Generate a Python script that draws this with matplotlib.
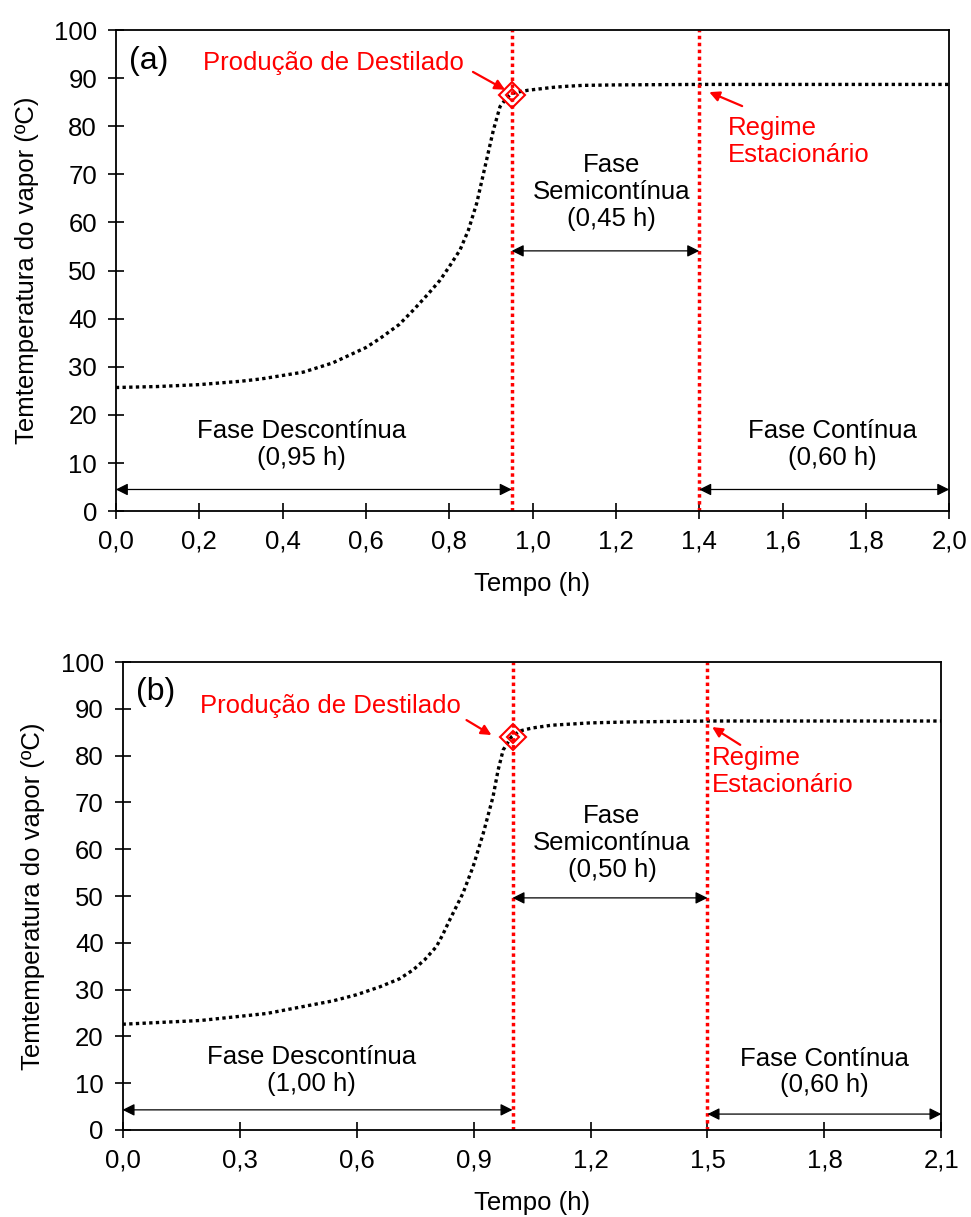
import matplotlib.pyplot as plt
import numpy as np

plt.rcParams['font.family'] = ['Liberation Sans', 'DejaVu Sans']

# painel (a)
tempo_a = [0, 0.1, 0.2, 0.3, 0.35, 0.45, 0.52, 0.6, 0.634, 0.68, 0.714, 0.75, 0.778,
           0.8, 0.826, 0.846, 0.866, 0.886, 0.906, 0.922, 0.938, 0.95, 0.97, 0.99,
           1.02, 1.05, 1.08, 1.12, 1.2, 1.4, 1.6, 1.8, 2.0]
temp_a = [25.7, 25.9, 26.3, 27.0, 27.5, 28.9, 30.8, 34.0, 35.9, 38.8, 41.8, 45.2, 48.0,
          50.8, 54.3, 58.4, 64.0, 71.6, 79.2, 84.1, 85.9, 86.8, 87.2, 87.5,
          87.8, 88.1, 88.3, 88.5, 88.6, 88.7, 88.7, 88.7, 88.7]
xticks_a = [0, 0.2, 0.4, 0.6, 0.8, 1.0, 1.2, 1.4, 1.6, 1.8, 2.0]
xlabels_a = ['0,0', '0,2', '0,4', '0,6', '0,8', '1,0', '1,2', '1,4', '1,6', '1,8', '2,0']
t_destilado_a = 0.95
T_destilado_a = 86.6
t_estac_a = 1.4
t_fim_a = 2.0

# painel (b)
tempo_b = [0, 0.2, 0.37, 0.54, 0.6, 0.66, 0.71, 0.745, 0.775, 0.805, 0.822, 0.839,
           0.873, 0.899, 0.925, 0.95, 0.963, 0.976, 0.997, 1.02, 1.05, 1.1, 1.2,
           1.3, 1.5, 1.8, 2.1]
temp_b = [22.6, 23.4, 24.9, 27.6, 28.9, 30.6, 32.3, 34.2, 36.4, 39.2, 41.9, 44.9,
          50.6, 56.3, 63.4, 71.2, 76.9, 81.2, 84.0, 85.3, 85.9, 86.5, 87.0,
          87.2, 87.4, 87.4, 87.4]
xticks_b = [0, 0.3, 0.6, 0.9, 1.2, 1.5, 1.8, 2.1]
xlabels_b = ['0,0', '0,3', '0,6', '0,9', '1,2', '1,5', '1,8', '2,1']
t_destilado_b = 1.0
T_destilado_b = 83.9
t_estac_b = 1.5
t_fim_b = 2.1

yticks = list(range(0, 101, 10))

fs = 18.5
fig = plt.figure(figsize=(9.71, 12.17), dpi=100)
ax1 = fig.add_axes([0.1193, 0.5800, 0.8583, 0.3953])
ax2 = fig.add_axes([0.1262, 0.0715, 0.8434, 0.3845])


def painel(ax, t, T, xt, xl, t_d, T_d, t_e, t_f, letra, fases, pos):
    ax.plot(t, T, color='black', lw=2.4, linestyle=(0, (1, 1)))
    ax.axvline(t_d, color='red', lw=2.5, linestyle=(0, (1, 1)))
    ax.axvline(t_e, color='red', lw=2.5, linestyle=(0, (1, 1)))
    ax.plot([t_d], [T_d], marker='D', ms=13, mfc='none', mec='red', mew=1.5)
    ax.plot([t_d], [T_d], marker='D', ms=6, mfc='none', mec='red', mew=1.5)

    ax.set_xlim(0, t_f)
    ax.set_ylim(0, 100)
    ax.set_xticks(xt)
    ax.set_xticklabels(xl)
    ax.set_yticks(yticks)
    ax.tick_params(direction='inout', length=11, width=1.2, labelsize=fs, pad=8)
    for s in ax.spines.values():
        s.set_linewidth(1.3)
    ax.set_xlabel('Tempo (h)', fontsize=fs, labelpad=13)
    ax.set_ylabel('Temtemperatura do vapor (ºC)', fontsize=fs, labelpad=11)

    seta = dict(arrowstyle='<|-|>', color='black', lw=0.9, mutation_scale=18,
                shrinkA=0, shrinkB=0)
    ax.annotate('', xy=(t_d, pos['y_desc']), xytext=(0, pos['y_desc']), arrowprops=seta)
    ax.annotate('', xy=(t_e, pos['y_semi']), xytext=(t_d, pos['y_semi']), arrowprops=seta)
    ax.annotate('', xy=(t_f, pos['y_cont']), xytext=(t_e, pos['y_cont']), arrowprops=seta)

    ax.text(pos['tx_desc'][0], pos['tx_desc'][1], fases[0], ha='center', va='center',
            fontsize=fs, linespacing=1.15)
    ax.text(pos['tx_semi'][0], pos['tx_semi'][1], fases[1], ha='center', va='center',
            fontsize=fs, linespacing=1.15)
    ax.text(pos['tx_cont'][0], pos['tx_cont'][1], fases[2], ha='center', va='center',
            fontsize=fs, linespacing=1.15)

    ax.text(0.08 * t_f / 2.0, 93.5, letra, ha='center', va='center', fontsize=23)

    vermelha = dict(arrowstyle='-|>', color='red', lw=1.6, mutation_scale=15,
                    shrinkA=0, shrinkB=0)
    ax.text(pos['tx_prod'][0], pos['tx_prod'][1], 'Produção de Destilado', ha='center',
            va='center', fontsize=fs, color='red')
    ax.annotate('', xy=pos['seta_prod'][1], xytext=pos['seta_prod'][0], arrowprops=vermelha)
    ax.text(pos['tx_reg'][0], pos['tx_reg'][1], 'Regime\nEstacionário', ha='left',
            va='center', fontsize=fs, color='red', linespacing=1.15)
    ax.annotate('', xy=pos['seta_reg'][1], xytext=pos['seta_reg'][0], arrowprops=vermelha)


painel(ax1, tempo_a, temp_a, xticks_a, xlabels_a, t_destilado_a, T_destilado_a,
       t_estac_a, t_fim_a, '(a)',
       ['Fase Descontínua\n(0,95 h)', 'Fase\nSemicontínua\n(0,45 h)', 'Fase Contínua\n(0,60 h)'],
       dict(y_desc=4.5, y_semi=54.1, y_cont=4.5,
            tx_desc=(0.446, 13.8), tx_semi=(1.19, 66.3), tx_cont=(1.72, 13.9),
            tx_prod=(0.523, 93.2), seta_prod=((0.857, 91.3), (0.934, 87.6)),
            tx_reg=(1.468, 76.8), seta_reg=((1.503, 84.2), (1.424, 87.1))))

painel(ax2, tempo_b, temp_b, xticks_b, xlabels_b, t_destilado_b, T_destilado_b,
       t_estac_b, t_fim_b, '(b)',
       ['Fase Descontínua\n(1,00 h)', 'Fase\nSemicontínua\n(0,50 h)', 'Fase Contínua\n(0,60 h)'],
       dict(y_desc=4.3, y_semi=49.6, y_cont=3.4,
            tx_desc=(0.485, 12.8), tx_semi=(1.255, 61.3), tx_cont=(1.80, 12.4),
            tx_prod=(0.532, 90.6), seta_prod=((0.882, 87.6), (0.946, 84.4)),
            tx_reg=(1.512, 76.7), seta_reg=((1.584, 82.3), (1.512, 86.1))))

fig.savefig('out.png', dpi=100)
